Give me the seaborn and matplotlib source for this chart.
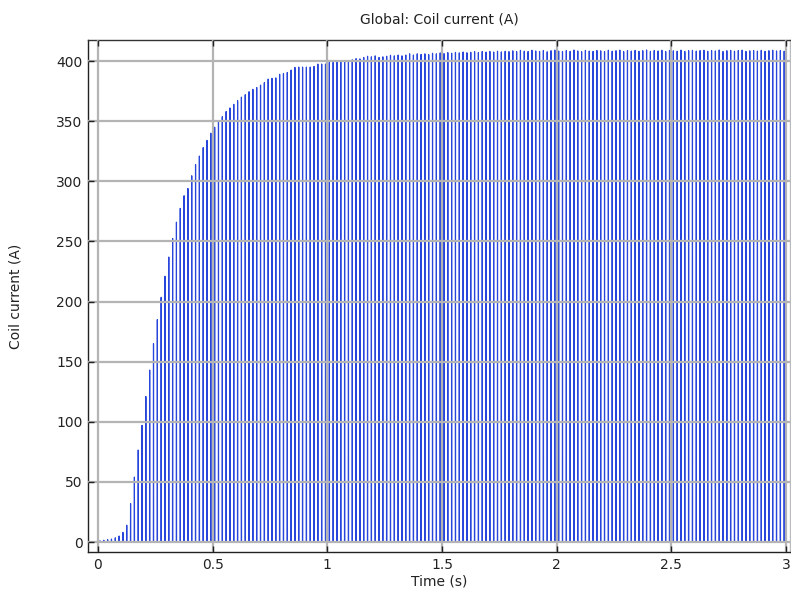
import numpy as np
import pandas as pd
import matplotlib
matplotlib.use("Agg")
import matplotlib.pyplot as plt
import seaborn as sns

# ---- data ----
pulse_period = 1 / 60.0      # s, spacing of the current pulses
first_pulse = 0.0087         # s, time of the first pulse
pulse_halfwidth = 0.0006     # s
peak_current = [
    1, 1.5, 2, 2.5, 3.5, 5, 8, 14, 32, 54, 76.5, 97, 121, 143, 165, 185, 203.5, 221, 237, 252.5,
    266, 277.5, 288, 294, 304.6, 314, 321, 328, 334, 340, 345, 350, 353.7, 358, 361, 364, 367, 370, 372, 374.5,
    376.5, 378, 380, 382, 385, 385.6, 386, 389, 389.7, 390.5, 392.5, 394.7, 395, 395, 395, 395, 395.5, 397.5, 397.5, 397.5,
    399, 399, 399, 400, 400, 400, 401, 402, 401.8, 403, 404, 403.5, 404.3, 403, 403.5, 404, 404.8, 404.3, 405, 404.3,
    405, 406, 405, 406,
    405.5, 406, 405.3, 406.5, 406, 406.8, 406.2, 407, 406.5, 407.2, 406.8, 407.5, 406.9, 407.3, 407.8, 407.1,
    407.9, 407.4, 408, 407.5, 408.2, 407.6, 408.1, 407.8,
    408.5, 407.8, 408.9, 408.2, 407.9, 409, 408.4, 408.0, 408.8, 407.7, 408.6, 409.1, 408.3, 407.9, 408.7, 408.1,
    409.2, 408.4, 407.8, 408.9, 408.3, 408.0, 408.8, 408.5, 407.9, 409.0, 408.2, 408.6, 409.1, 407.8, 408.7, 408.3,
    408.9, 408.1, 408.6, 409.2, 408.0, 408.7, 408.4, 409.0, 407.9, 408.8, 408.5, 408.2, 409.1, 408.0, 408.6, 408.9,
    408.3, 408.7, 409.0, 408.1, 408.8, 408.4, 409.2, 407.9, 408.6, 408.9, 408.2, 408.7, 409.1, 408.0, 408.5, 408.8,
    408.3, 408.9, 408.1, 408.6, 409.0, 408.4, 408.7, 408.2,
]
baseline_current = 0.3
x_ticks = [0, 0.5, 1, 1.5, 2, 2.5, 3]
x_tick_labels = ["0", "0.5", "1", "1.5", "2", "2.5", "3"]
y_ticks = [0, 50, 100, 150, 200, 250, 300, 350, 400]

# ---- build the pulse trace ----
peaks = np.array(peak_current)
tp = first_pulse + np.arange(len(peaks)) * pulse_period
t_list, i_list = [0.0], [baseline_current]
for t, p in zip(tp, peaks):
    t_list += [t - pulse_halfwidth, t, t + pulse_halfwidth]
    i_list += [baseline_current, p, baseline_current]
t_list.append(3.0)
i_list.append(baseline_current)
df = pd.DataFrame({"Time (s)": t_list, "Coil current (A)": i_list})

sns.set_theme(style="white")
plt.rcParams["font.family"] = ["DejaVu Sans"]

fig = plt.figure(figsize=(7.91, 5.98), dpi=100)
ax = fig.add_axes([88 / 791, 46 / 598, 702 / 791, 512 / 598])

sns.lineplot(data=df, x="Time (s)", y="Coil current (A)", ax=ax, sort=False,
             estimator=None, color="#2846dc", linewidth=0.85, zorder=1)

ax.set_xlim(-0.0436, 3.0174)
ax.set_ylim(-8.3, 417.5)
ax.set_xticks(x_ticks)
ax.set_xticklabels(x_tick_labels)
ax.set_yticks(y_ticks)
ax.grid(True, color="#b4b4b4", linewidth=1.6, zorder=2)
ax.set_axisbelow(False)
for gl in ax.get_xgridlines() + ax.get_ygridlines():
    gl.set_zorder(2)

ax.tick_params(direction="in", length=4, width=1, colors="#222222",
               labelsize=10, top=True, right=False, left=True, bottom=True,
               labelcolor="#222222", pad=4)
for s in ax.spines.values():
    s.set_color("#222222")
    s.set_linewidth(1.0)
ax.spines["top"].set_color("#333333")
ax.spines["right"].set_color("#bbbbbb")

ax.set_xlabel("Time (s)", fontsize=10, color="#222222", labelpad=2)
ax.set_ylabel("Coil current (A)", fontsize=10, color="#222222", labelpad=24)
ax.set_title("Global: Coil current (A)", fontsize=10, color="#222222", pad=12)

fig.savefig("out.png", dpi=100)
